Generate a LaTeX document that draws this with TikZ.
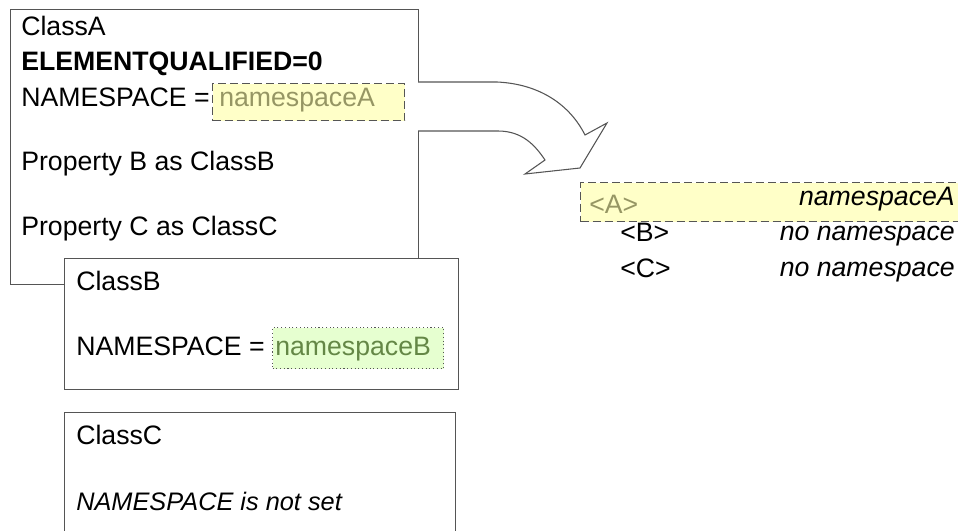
\documentclass[tikz,border=0pt]{standalone}
\usepackage{fontspec}
\setmainfont{Liberation Sans}
\usetikzlibrary{positioning}

\definecolor{boxgray}{RGB}{85,85,85}
\definecolor{yelfill}{RGB}{255,255,200}
\definecolor{yeltext}{RGB}{150,150,100}
\definecolor{grnfill}{RGB}{230,255,208}
\definecolor{grntext}{RGB}{100,135,70}

\begin{document}
\begin{tikzpicture}[x=0.75pt,y=-0.75pt,
                    font=\fontsize{20}{24}\selectfont,
                    classbox/.style={draw=boxgray,line width=0.9pt,fill=white,anchor=north west,inner sep=0pt},
                    txt/.style={anchor=base west,inner sep=0pt},
                    nsbox/.style={draw=boxgray,line width=0.8pt,anchor=north west,inner sep=0pt,
                                  dash pattern=on 6pt off 3pt},
                    nsdots/.style={draw=boxgray,line width=0.8pt,anchor=north west,inner sep=0pt,
                                  dash pattern=on 0.8pt off 2pt}]
                        \useasboundingbox (0,0) rectangle (958,531);
                        % ClassA
                        \node[classbox,minimum width=306pt,minimum height=206.25pt] (ClassA) at (10,9) {};
                        \node[txt] (nameA) at (21,36) {ClassA};
                        \node[txt,font=\fontsize{20}{24}\selectfont\bfseries] (qualA) at (21,71) {ELEMENTQUALIFIED=0};
                        \node[txt] (nsLabelA) at (21,107) {NAMESPACE =};
                        \node[nsbox,fill=yelfill,minimum width=144pt,minimum height=27.75pt] (nsA) at (212,83) {};
                        \node[txt,text=yeltext] (nsValA) at (219,107) {namespaceA};
                        \node[txt] (propB) at (21,171) {Property B as ClassB};
                        \node[txt] (propC) at (21,236) {Property C as ClassC};
                        % big arrow
                        \draw[boxgray,line width=0.8pt,fill=white,line join=miter]
                            (418,82) -- (497,82) .. controls (540,84) and (570,105) .. (585,135)
                            -- (607,123) -- (580,168) -- (525,174) -- (545,160)
                            .. controls (535,145) and (522,131) .. (498,131) -- (418,131);
                        % ClassB
                        \node[classbox,minimum width=295.5pt,minimum height=98.25pt] (ClassB) at (64,258) {};
                        \node[txt] (nameB) at (76,291) {ClassB};
                        \node[txt] (nsLabelB) at (76,356) {NAMESPACE =};
                        \node[nsdots,fill=grnfill,minimum width=128.25pt,minimum height=30.75pt] (nsB) at (272,327) {};
                        \node[txt,text=grntext] (nsValB) at (275,356) {namespaceB};
                        % ClassC
                        \node[classbox,minimum width=293.25pt,minimum height=111pt] (ClassC) at (64,412) {};
                        \node[txt] (nameC) at (76,445) {ClassC};
                        \node[txt,font=\fontsize{19}{23}\selectfont\itshape] (unsetC) at (76,510) {NAMESPACE is not set};
                        % resulting elements
                        \node[nsbox,fill=yelfill,minimum width=292.5pt,minimum height=29.25pt] (rowA) at (580,182) {};
                        \node[txt,text=yeltext] (tagA) at (589,214) {<A>};
                        \node[txt,anchor=base east,font=\fontsize{20}{24}\selectfont\itshape] (valA) at (955,206) {namespaceA};
                        \node[txt] (tagB) at (620,242) {<B>};
                        \node[txt,anchor=base east,font=\fontsize{20}{24}\selectfont\itshape] (valB) at (955,241) {no namespace};
                        \node[txt] (tagC) at (620,278) {<C>};
                        \node[txt,anchor=base east,font=\fontsize{20}{24}\selectfont\itshape] (valC) at (955,277) {no namespace};
                    \end{tikzpicture}
\end{document}
